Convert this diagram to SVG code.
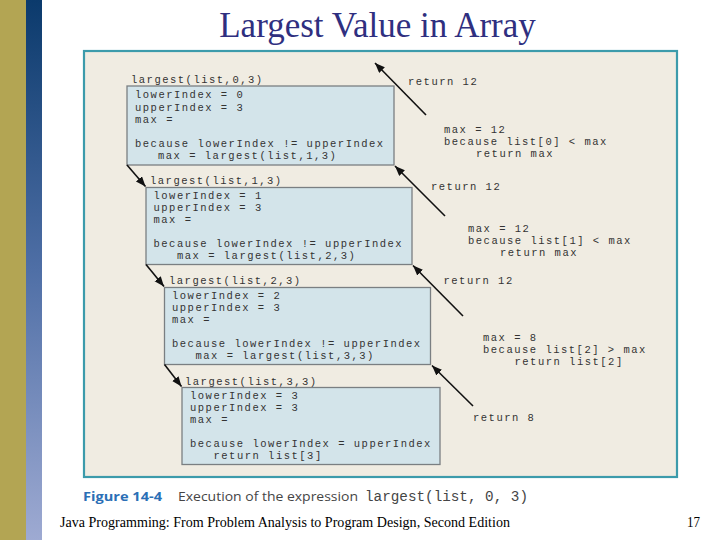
<svg xmlns="http://www.w3.org/2000/svg" width="720" height="540" viewBox="0 0 720 540">
<defs>
<linearGradient id="blueBar" x1="0" y1="0" x2="0" y2="1">
<stop offset="0" stop-color="#0b3a6c"/>
<stop offset="0.5" stop-color="#4f6fa6"/>
<stop offset="1" stop-color="#9eaad2"/>
</linearGradient>
<marker id="ah" markerUnits="userSpaceOnUse" markerWidth="11" markerHeight="9" refX="10" refY="4" orient="auto">
<path d="M0,0 L10,4 L0,8 z" fill="#111"/>
</marker>
<style>
.m{font-family:"Liberation Mono","Courier New",monospace;font-size:10.5px;letter-spacing:1.5px;fill:#333;}
.box{fill:#d3e4ea;stroke:#7a7f82;stroke-width:1.3;}
.arr{stroke:#111;stroke-width:1.6;fill:none;marker-end:url(#ah);}
</style>
</defs>
<rect width="720" height="540" fill="#fff"/>
<rect x="0" y="0" width="26" height="540" fill="#b3a553"/>
<rect x="26" y="0" width="16" height="540" fill="url(#blueBar)"/>
<text x="377.5" y="37" text-anchor="middle" font-family="Liberation Serif, Times New Roman, serif" font-size="35" fill="#2f2f80">Largest Value in Array</text>
<rect x="84" y="51" width="593" height="426" fill="#f0ece2" stroke="#3c9bab" stroke-width="2.2"/>

<g id="call0">
<text class="m" x="131" y="83">largest(list,0,3)</text>
<rect class="box" x="127" y="86" width="267" height="79"/>
<text class="m" x="135" y="98">lowerIndex = 0</text>
<text class="m" x="135" y="110.5">upperIndex = 3</text>
<text class="m" x="135" y="122.5">max =</text>
<text class="m" x="135" y="147">because lowerIndex != upperIndex</text>
<text class="m" x="158" y="159">max = largest(list,1,3)</text>
</g>
<g id="call1">
<text class="m" x="150" y="184">largest(list,1,3)</text>
<rect class="box" x="146" y="187.5" width="266" height="77"/>
<text class="m" x="153.5" y="198.5">lowerIndex = 1</text>
<text class="m" x="153.5" y="210.5">upperIndex = 3</text>
<text class="m" x="153.5" y="222.5">max =</text>
<text class="m" x="153.5" y="247">because lowerIndex != upperIndex</text>
<text class="m" x="177" y="259">max = largest(list,2,3)</text>
</g>
<g id="call2">
<text class="m" x="169" y="283.5">largest(list,2,3)</text>
<rect class="box" x="164.5" y="287.5" width="266" height="77"/>
<text class="m" x="172" y="298.5">lowerIndex = 2</text>
<text class="m" x="172" y="310.5">upperIndex = 3</text>
<text class="m" x="172" y="322.5">max =</text>
<text class="m" x="172" y="347">because lowerIndex != upperIndex</text>
<text class="m" x="195.5" y="359">max = largest(list,3,3)</text>
</g>
<g id="call3">
<text class="m" x="185" y="385">largest(list,3,3)</text>
<rect class="box" x="182" y="387.5" width="258" height="77"/>
<text class="m" x="190" y="398.5">lowerIndex = 3</text>
<text class="m" x="190" y="410.5">upperIndex = 3</text>
<text class="m" x="190" y="422.5">max =</text>
<text class="m" x="190" y="447">because lowerIndex = upperIndex</text>
<text class="m" x="213.5" y="459">return list[3]</text>
</g>

<g id="connectors">
<line class="arr" x1="127" y1="165" x2="145.5" y2="186.5"/>
<line class="arr" x1="146" y1="264.5" x2="164" y2="286.5"/>
<line class="arr" x1="164.5" y1="364.5" x2="181.5" y2="386.5"/>
<line class="arr" x1="426" y1="115" x2="375" y2="63"/>
<line class="arr" x1="445" y1="216" x2="395" y2="166"/>
<line class="arr" x1="463" y1="316" x2="413" y2="265.5"/>
<line class="arr" x1="473" y1="406" x2="432" y2="365.5"/>
</g>

<g id="returns">
<text class="m" x="408" y="85">return 12</text>
<text class="m" x="444" y="132.5">max = 12</text>
<text class="m" x="444" y="144.5">because list[0] &lt; max</text>
<text class="m" x="476" y="156.5">return max</text>
<text class="m" x="431" y="189.5">return 12</text>
<text class="m" x="468" y="232">max = 12</text>
<text class="m" x="468" y="244">because list[1] &lt; max</text>
<text class="m" x="500" y="256">return max</text>
<text class="m" x="443.5" y="283.5">return 12</text>
<text class="m" x="483" y="340.5">max = 8</text>
<text class="m" x="483" y="352.5">because list[2] &gt; max</text>
<text class="m" x="514.5" y="364.5">return list[2]</text>
<text class="m" x="473" y="420.5">return 8</text>
</g>

<g id="caption">
<text x="83" y="500.5" font-family="Open Sans, Liberation Sans, sans-serif" font-weight="bold" font-size="13" fill="#2b6fb6" textLength="79" lengthAdjust="spacingAndGlyphs">Figure 14-4</text>
<text x="178" y="500.5" font-family="Open Sans, Liberation Sans, sans-serif" font-size="13" fill="#454545" textLength="180" lengthAdjust="spacingAndGlyphs">Execution of the expression</text>
<text x="365" y="500.5" font-family="Liberation Mono, Courier New, monospace" font-size="14" fill="#454545" textLength="163" lengthAdjust="spacingAndGlyphs">largest(list, 0, 3)</text>
</g>
<text x="60" y="527" font-family="Liberation Serif, Times New Roman, serif" font-size="15" fill="#000" textLength="450" lengthAdjust="spacingAndGlyphs">Java Programming: From Problem Analysis to Program Design, Second Edition</text>
<text x="687" y="527" font-family="Liberation Serif, Times New Roman, serif" font-size="15" fill="#000" textLength="13" lengthAdjust="spacingAndGlyphs">17</text>
</svg>
